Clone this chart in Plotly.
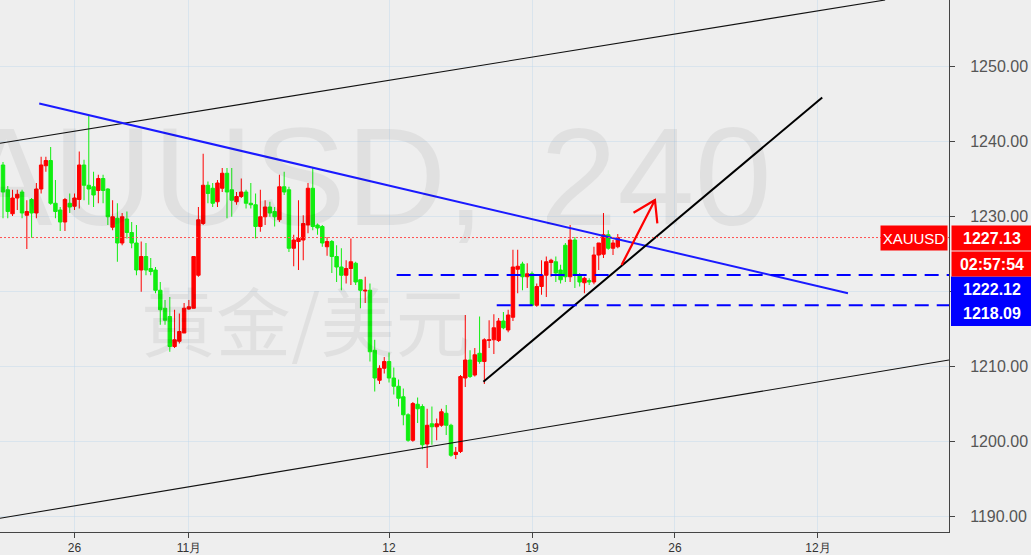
import plotly.graph_objects as go

# ---------------- data (4-hour bars) ----------------
opens = [1236.8, 1233.5, 1230.3, 1232.4, 1233.2, 1230.1, 1232.2, 1230.4, 1233.6, 1236.7,
         1237.4, 1231.7, 1230.8, 1229.2, 1231.7, 1231.3, 1232.2, 1236.8, 1234.1, 1233.9,
         1233.4, 1235.0, 1233.6, 1228.5, 1229.7, 1226.4, 1229.6, 1227.8, 1226.4, 1222.8,
         1224.6, 1223.0, 1222.8, 1220.1, 1217.7, 1216.6, 1212.6, 1213.3, 1214.4, 1217.6,
         1217.7, 1222.1, 1229.0, 1234.1, 1233.7, 1231.9, 1233.7, 1235.7, 1233.5, 1231.9,
         1232.6, 1233.2, 1231.7, 1231.5, 1228.6, 1229.9, 1231.2, 1230.6, 1229.5, 1233.9,
         1233.5, 1225.7, 1226.6, 1226.8, 1228.8, 1233.7, 1228.8, 1228.6, 1225.9, 1226.6,
         1224.6, 1223.2, 1222.1, 1223.0, 1223.7, 1221.5, 1220.0, 1220.1, 1212.1, 1208.1,
         1209.7, 1210.6, 1208.4, 1207.3, 1205.9, 1203.5, 1200.1, 1204.9, 1204.6, 1199.6,
         1202.3, 1201.9, 1202.1, 1203.7, 1202.1, 1198.2, 1198.6, 1208.4, 1210.8, 1208.8,
         1211.7, 1210.6, 1213.4, 1213.5, 1213.4, 1216.0, 1214.8, 1216.5, 1222.9, 1223.6,
         1221.9, 1222.3, 1218.1, 1220.6, 1222.1, 1223.8, 1223.9, 1222.8, 1226.1, 1221.9,
         1226.8, 1222.1, 1221.1, 1221.4, 1221.2, 1224.8, 1224.9, 1227.5, 1225.7, 1225.9]
highs = [1237.2, 1234.0, 1233.5, 1233.5, 1233.5, 1232.1, 1232.4, 1234.4, 1237.9, 1237.9,
         1239.2, 1234.8, 1231.2, 1232.4, 1233.0, 1233.0, 1238.6, 1237.5, 1243.5, 1235.9,
         1235.5, 1235.5, 1233.7, 1232.1, 1231.7, 1230.4, 1230.6, 1229.2, 1228.8, 1226.6,
         1226.4, 1224.4, 1223.2, 1221.2, 1218.8, 1219.2, 1217.5, 1217.0, 1218.4, 1218.8,
         1224.6, 1231.2, 1238.3, 1234.6, 1234.4, 1234.8, 1236.4, 1236.4, 1236.4, 1233.2,
         1235.0, 1233.5, 1234.4, 1233.0, 1233.5, 1232.1, 1231.9, 1231.2, 1235.5, 1235.9,
         1233.9, 1227.5, 1232.1, 1230.1, 1234.4, 1236.4, 1229.0, 1228.8, 1227.2, 1226.8,
         1226.1, 1225.7, 1224.1, 1227.0, 1223.9, 1221.5, 1221.9, 1221.0, 1213.5, 1210.1,
         1211.2, 1211.8, 1209.8, 1208.2, 1207.0, 1203.7, 1205.2, 1205.8, 1204.9, 1204.3,
         1204.6, 1203.0, 1204.3, 1204.8, 1202.3, 1199.2, 1208.8, 1216.8, 1212.1, 1212.4,
         1216.6, 1213.7, 1216.1, 1216.9, 1216.4, 1217.2, 1217.5, 1225.5, 1225.5, 1223.9,
         1223.7, 1222.6, 1221.0, 1224.1, 1224.6, 1224.3, 1224.6, 1223.5, 1226.4, 1228.8,
         1227.2, 1222.4, 1221.9, 1221.7, 1225.9, 1226.4, 1230.4, 1228.1, 1226.8, 1227.6]
lows = [1229.7, 1229.7, 1230.0, 1230.8, 1229.7, 1225.6, 1227.1, 1229.7, 1233.0, 1235.9,
        1231.5, 1229.7, 1228.0, 1228.0, 1230.4, 1230.8, 1231.0, 1232.1, 1231.5, 1231.2,
        1231.7, 1231.7, 1228.8, 1228.1, 1223.9, 1226.1, 1227.0, 1225.7, 1222.1, 1219.9,
        1222.1, 1222.1, 1219.7, 1215.5, 1215.5, 1211.9, 1212.4, 1213.0, 1214.4, 1217.5,
        1217.7, 1221.9, 1228.8, 1231.7, 1231.2, 1231.2, 1233.2, 1229.7, 1229.9, 1231.5,
        1232.4, 1231.0, 1231.0, 1227.0, 1227.9, 1228.8, 1229.9, 1228.6, 1229.2, 1232.8,
        1225.2, 1223.3, 1222.8, 1224.1, 1227.7, 1228.1, 1227.5, 1225.9, 1224.7, 1222.4,
        1221.2, 1220.1, 1221.0, 1220.8, 1220.8, 1217.7, 1218.4, 1210.6, 1206.6, 1207.6,
        1209.0, 1207.8, 1206.2, 1204.6, 1202.1, 1199.9, 1199.9, 1202.4, 1198.9, 1196.4,
        1199.5, 1200.1, 1201.9, 1200.8, 1197.9, 1197.6, 1198.4, 1207.2, 1208.4, 1208.6,
        1210.3, 1207.6, 1212.4, 1211.6, 1213.2, 1214.9, 1214.5, 1216.0, 1219.7, 1220.1,
        1220.4, 1218.1, 1217.9, 1219.5, 1219.2, 1221.9, 1221.2, 1221.0, 1221.2, 1221.2,
        1220.4, 1220.6, 1219.7, 1220.8, 1220.9, 1222.8, 1224.4, 1225.5, 1224.8, 1225.7]
closes = [1233.2, 1230.6, 1232.4, 1232.9, 1230.4, 1230.6, 1230.4, 1233.6, 1236.8, 1237.4,
          1231.7, 1230.6, 1229.2, 1232.2, 1231.2, 1232.4, 1236.8, 1234.1, 1233.6, 1232.8,
          1235.0, 1233.4, 1229.9, 1229.9, 1226.4, 1229.9, 1227.8, 1226.4, 1222.8, 1224.6,
          1222.8, 1222.6, 1220.1, 1217.5, 1216.1, 1212.6, 1213.5, 1214.6, 1217.7, 1217.9,
          1224.6, 1229.5, 1234.1, 1233.0, 1231.7, 1234.4, 1235.7, 1233.2, 1232.1, 1232.6,
          1233.2, 1231.7, 1231.5, 1228.6, 1229.9, 1231.2, 1230.4, 1229.9, 1233.9, 1233.2,
          1225.7, 1226.8, 1227.0, 1229.0, 1233.7, 1228.6, 1228.4, 1226.4, 1226.6, 1224.6,
          1223.2, 1222.1, 1223.0, 1223.9, 1221.2, 1220.1, 1220.1, 1211.9, 1208.4, 1209.7,
          1210.6, 1208.4, 1207.3, 1205.7, 1203.5, 1200.1, 1205.0, 1204.3, 1199.5, 1202.1,
          1201.9, 1202.3, 1203.9, 1202.1, 1198.1, 1198.5, 1208.6, 1210.8, 1208.6, 1211.5,
          1210.6, 1213.5, 1213.5, 1215.1, 1216.0, 1215.1, 1216.8, 1223.2, 1223.3, 1221.9,
          1222.3, 1218.1, 1220.6, 1222.1, 1223.9, 1224.1, 1222.4, 1221.5, 1221.9, 1226.8,
          1222.1, 1221.2, 1221.7, 1221.2, 1224.8, 1226.4, 1227.5, 1225.7, 1226.4, 1227.13]
bar_index = list(range(len(opens)))

x_tick_vals = [15, 39, 81, 111, 141, 171]
x_tick_text = ['26', '11月', '12', '19', '26', '12月']
y_tick_vals = [1190, 1200, 1210, 1220, 1230, 1240, 1250, 1260]
# the 1220.00 label sits behind the price-label block in the reference
y_tick_text = ['' if v == 1220 else f'{v:.2f}' for v in y_tick_vals]

symbol = 'XAUUSD'
timeframe = '240'
description = '黄金/美元'
last_price = 1227.13
countdown = '02:57:54'
level_upper = 1222.12
level_lower = 1218.09

# drawn objects (bar index, price)
channel_upper_x, channel_upper_y = [-0.63, 185.1], [1239.7, 1258.8]
channel_lower_x, channel_lower_y = [-0.63, 198.5], [1189.7, 1210.8]
resistance_x, resistance_y = [7.6, 177.3], [1245.0, 1219.7]
support_x, support_y = [100.8, 171.9], [1207.9, 1245.8]
level_upper_start = 82.6
level_lower_start = 103.6
arrow_x = [129.8, 136.8, 132.3, 136.8, 137.3]
arrow_y = [1223.47, 1232.13, 1230.44, 1232.13, 1229.03]

x_range = [-0.63, 198.5]
y_range = [1187.87, 1258.8]

RED = '#ff0000'
GREEN = '#10ee10'
BLUE = '#0000ff'
BG = '#eeeeee'

PLOT_W, PLOT_H = 949, 532  # plot-area size in pixels (for paper-positioned labels)

fig = go.Figure()

fig.add_trace(go.Candlestick(
    x=bar_index, open=opens, high=highs, low=lows, close=closes,
    increasing=dict(line=dict(color=RED, width=1), fillcolor=RED),
    decreasing=dict(line=dict(color=GREEN, width=1), fillcolor=GREEN),
    whiskerwidth=0, hoverinfo='skip', showlegend=False))

def line(xs, ys, color, width=1.2, dash=None):
    fig.add_trace(go.Scatter(x=xs, y=ys, mode='lines',
                             line=dict(color=color, width=width, dash=dash),
                             hoverinfo='skip', showlegend=False))

line(channel_upper_x, channel_upper_y, '#111111', 1.1)
line(channel_lower_x, channel_lower_y, '#111111', 1.1)
line(resistance_x, resistance_y, '#1a1aff', 2)
line(support_x, support_y, '#000000', 2)
line([level_upper_start, x_range[1]], [level_upper, level_upper], BLUE, 2, '14px,8px')
line([level_lower_start, x_range[1]], [level_lower, level_lower], BLUE, 2, '14px,8px')
line(x_range, [last_price, last_price], '#ff5050', 1, '2px,2px')
line(arrow_x, arrow_y, RED, 2.2)

annotations = []
wm_color = 'rgba(0,0,0,0.055)'
# watermarks
annotations.append(dict(text=f'{symbol},', xref='paper', yref='paper',
                        x=487 / PLOT_W, y=1 - 176 / PLOT_H, xanchor='right', yanchor='middle',
                        showarrow=False,
                        font=dict(family='Liberation Sans', size=139, color=wm_color)))
annotations.append(dict(text=timeframe, xref='paper', yref='paper',
                        x=774 / PLOT_W, y=1 - 176 / PLOT_H, xanchor='right', yanchor='middle',
                        showarrow=False,
                        font=dict(family='Liberation Sans', size=139, color=wm_color)))
annotations.append(dict(text=description, xref='paper', yref='paper',
                        x=305 / PLOT_W, y=1 - 318 / PLOT_H, xanchor='center', yanchor='middle',
                        showarrow=False,
                        font=dict(family='Noto Sans CJK SC', size=75, color=wm_color)))

lab_font = dict(family='Liberation Sans', size=16, color='white')
annotations.append(dict(text=symbol, xref='paper', yref='y', x=948 / PLOT_W, y=last_price,
                        xanchor='right', yanchor='middle', showarrow=False,
                        bgcolor=RED, width=66, height=24, borderpad=0,
                        font=dict(family='Liberation Sans', size=15, color='white')))
for txt, shift, col in [(f'{last_price:.2f}', 0, RED), (countdown, -26, RED),
                        (f'{level_upper:.2f}', -51, None), (f'{level_lower:.2f}', -75, None)]:
    a = dict(text=f'<b>{txt}</b>', xref='paper', yref='y', x=1, y=last_price,
             xanchor='left', yanchor='middle', xshift=2, yshift=shift,
             showarrow=False, width=80, height=24, borderpad=0, font=lab_font)
    if col:
        a['bgcolor'] = col
    annotations.append(a)

shapes = [dict(type='rect', xref='paper', yref='paper', layer='above',
               x0=951 / PLOT_W, x1=1031 / PLOT_W,
               y0=1 - 326 / PLOT_H, y1=1 - 276.5 / PLOT_H,
               fillcolor=BLUE, line=dict(width=0))]

fig.update_layout(
    width=1031, height=555,
    margin=dict(l=0, r=82, t=0, b=23),
    paper_bgcolor=BG, plot_bgcolor=BG,
    showlegend=False,
    boxgap=0.15, boxgroupgap=0.15,
    annotations=annotations,
    shapes=shapes,
    xaxis=dict(range=x_range, tickvals=x_tick_vals, ticktext=x_tick_text,
               ticks='outside', ticklen=5, tickcolor='#444', showline=True,
               linecolor='#444', linewidth=1, showgrid=True,
               gridcolor='rgba(190,215,235,0.45)', zeroline=False,
               rangeslider=dict(visible=False),
               tickfont=dict(family='Liberation Sans', size=12, color='#333')),
    yaxis=dict(range=y_range, side='right', tickvals=y_tick_vals, ticktext=y_tick_text,
               ticks='outside', ticklen=5, tickcolor='#444', showline=True,
               linecolor='#444', linewidth=1, showgrid=True, ticklabelstandoff=12,
               gridcolor='rgba(190,215,235,0.45)', zeroline=False,
               tickfont=dict(family='Liberation Sans', size=16, color='#555')),
)

fig.write_html('out.html', config={'displayModeBar': False},
               post_script="document.body.style.margin='0';document.body.style.padding='0';"
                           "document.body.style.overflow='hidden';"
                           "document.body.style.background='" + BG + "';")
